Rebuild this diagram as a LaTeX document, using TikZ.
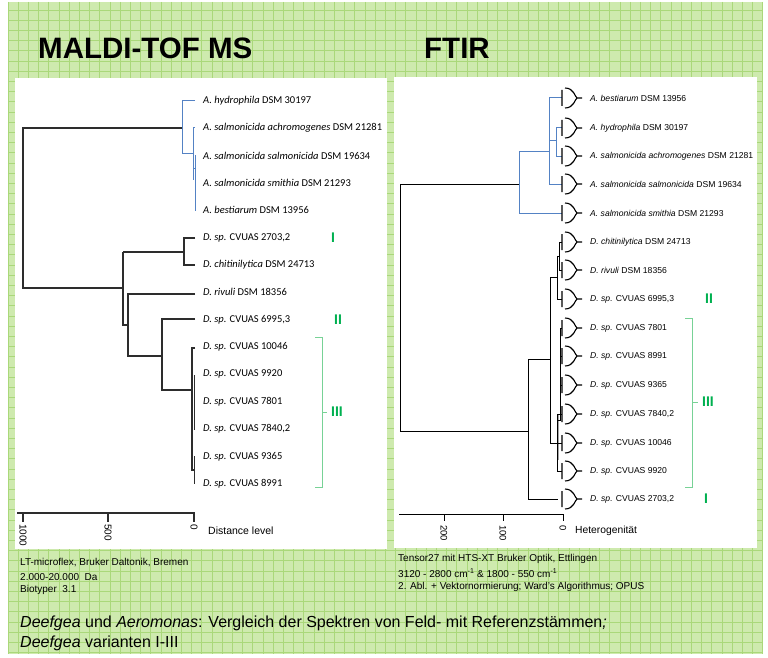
\documentclass[tikz,border=0pt]{standalone}
\usepackage{fontspec}
\setmainfont{Liberation Sans}
\newfontfamily\leftfont{Carlito}
\definecolor{paper}{RGB}{206,234,174}
\definecolor{gridgreen}{RGB}{170,216,122}
\definecolor{aerblue}{RGB}{84,130,196}
\definecolor{treegray}{RGB}{45,45,45}
\definecolor{varigreen}{RGB}{0,176,80}
\definecolor{brackgreen}{RGB}{120,210,150}
\tikzset{
  gridline/.style={draw=gridgreen, line width=0.8pt},
  ltree/.style={draw=treegray, line width=1.1pt},
  lblue/.style={draw=aerblue, line width=1pt},
  rtree/.style={draw=black, line width=0.9pt},
  rblue/.style={draw=aerblue, line width=1pt},
  leftlab/.style={anchor=west, inner sep=0pt, font=\leftfont\fontsize{10.5}{12}\selectfont},
  rightlab/.style={anchor=west, inner sep=0pt, font=\fontsize{8.6}{10}\selectfont},
  ticklab/.style={rotate=-90, anchor=west, inner sep=0pt, font=\fontsize{10}{12}\selectfont},
  axislab/.style={anchor=west, inner sep=0pt, font=\fontsize{10.5}{12}\selectfont},
  varlab/.style={inner sep=0pt, text=varigreen, font=\bfseries\fontsize{14}{16}\selectfont},
  bracket/.style={draw=brackgreen, line width=0.9pt},
  footlab/.style={anchor=west, inner sep=0pt, font=\fontsize{10}{12}\selectfont},
}
\begin{document}
\begin{tikzpicture}[x=1pt,y=-1pt]
        \useasboundingbox (0,0) rectangle (768,658);
        \fill[white] (0,0) rectangle (768,658);

        % Hintergrund mit Gitter
        \fill[paper] (8,2) rectangle (763,654);
        \foreach \x in {8,18.2,...,763} \draw[gridline] (\x,2) -- (\x,654);
        \foreach \y in {10,20.2,...,654} \draw[gridline] (8,\y) -- (763,\y);

        % Felder
        \fill[white] (15,78) rectangle (387,549);
        \fill[white] (394,77) rectangle (757,548);

        % Titel
        \node[anchor=west, inner sep=0pt, font=\bfseries\fontsize{29.5}{34}\selectfont] (maldi) at (38,48) {MALDI-TOF MS};
        \node[anchor=west, inner sep=0pt, font=\bfseries\fontsize{29.5}{34}\selectfont] (ftir) at (424,48) {FTIR};

        % MALDI: Wurzel
        \draw[ltree] (183,128) -- (23,128) -- (23,288) -- (123,288);

        % MALDI: Aeromonas
        \draw[lblue] (195,101) -- (182,101) -- (182,153) -- (193,153);
        \draw[lblue] (195,128) -- (193,128) -- (193,180);
        \draw[lblue] (193,168) -- (195,168);
        \draw[lblue] (195,155) -- (195,211);

        % MALDI: Deefgea
        \draw[ltree] (123,252) -- (123,325) -- (128,325);
        \draw[ltree] (195,238) -- (184,238) -- (184,265) -- (195,265);
        \draw[ltree] (123,252) -- (184,252);
        \draw[ltree] (195,294) -- (128,294) -- (128,356) -- (162,356);
        \draw[ltree] (195,319) -- (162,319) -- (162,390) -- (192,390);
        \draw[ltree] (195,348) -- (192,348) -- (192,470) -- (194.5,470);
        \draw[ltree, line width=2.2pt] (192,397) -- (192,433);
        \draw[ltree, line width=0.8pt] (195,375) -- (194.3,375) -- (194.3,429) -- (195,429);
        \draw[ltree, line width=0.8pt] (194.3,402) -- (195,402);
        \draw[ltree, line width=0.8pt] (194.5,456) -- (194.5,484);

        % MALDI: Stämme
        \node[leftlab] (lhyd) at (203,101) {\textit{A. hydrophila} DSM 30197};
        \node[leftlab] (lach) at (203,128) {\textit{A. salmonicida achromogenes} DSM 21281};
        \node[leftlab] (lsal) at (203,156) {\textit{A. salmonicida salmonicida} DSM 19634};
        \node[leftlab] (lsmi) at (203,183) {\textit{A. salmonicida smithia} DSM 21293};
        \node[leftlab] (lbes) at (203,210) {\textit{A. bestiarum} DSM 13956};
        \node[leftlab] (l2703) at (203,238) {\textit{D. sp.} CVUAS 2703,2};
        \node[leftlab] (lchi) at (203,265) {\textit{D. chitinilytica} DSM 24713};
        \node[leftlab] (lriv) at (203,292) {\textit{D. rivuli} DSM 18356};
        \node[leftlab] (l6995) at (203,320) {\textit{D. sp.} CVUAS 6995,3};
        \node[leftlab] (l10046) at (203,347) {\textit{D. sp.} CVUAS 10046};
        \node[leftlab] (l9920) at (203,374) {\textit{D. sp.} CVUAS 9920};
        \node[leftlab] (l7801) at (203,402) {\textit{D. sp.} CVUAS 7801};
        \node[leftlab] (l7840) at (203,429) {\textit{D. sp.} CVUAS 7840,2};
        \node[leftlab] (l9365) at (203,457) {\textit{D. sp.} CVUAS 9365};
        \node[leftlab] (l8991) at (203,484) {\textit{D. sp.} CVUAS 8991};

        % MALDI: Varianten
        \node[varlab] (lvarI) at (333,238) {I};
        \node[varlab] (lvarII) at (338,320) {II};
        \draw[bracket] (315,337) -- (322,337) -- (322,487) -- (315,487);
        \draw[bracket] (322,412) -- (327,412);
        \node[varlab, anchor=west] (lvarIII) at (331,412) {III};

        % MALDI: Achse
        \draw[ltree] (17,513) -- (195,513);
        \draw[ltree] (23,513) -- (23,522);
        \draw[ltree] (108,513) -- (108,522);
        \draw[ltree] (194,513) -- (194,522);
        \node[ticklab] (t1000) at (23,524) {1000};
        \node[ticklab] (t500) at (108,524) {500};
        \node[ticklab] (t0l) at (194,524) {0};
        \node[axislab] (dist) at (208,531) {Distance level};

        % FTIR: Wurzel
        \draw[rtree] (519,184) -- (400,184) -- (400,431) -- (528,431);

        % FTIR: Aeromonas
        \draw[rblue] (549,151) -- (519,151) -- (519,213) -- (562,213);
        \draw[rblue] (562,98) -- (549,98) -- (549,184) -- (562,184);
        \draw[rblue] (549,141) -- (556,141);
        \draw[rblue] (562,128) -- (556,128) -- (556,156) -- (562,156);

        % FTIR: Deefgea
        \draw[rtree] (550,359) -- (528,359) -- (528,499) -- (558,499);
        \draw[rtree] (557,277) -- (550,277) -- (550,443) -- (557,443);
        \draw[rtree] (559,256) -- (557,256) -- (557,299) -- (562,299);
        \draw[rtree] (562,242) -- (559,242) -- (559,270) -- (562,270);
        \draw[gray!70, line width=2pt] (558,414) -- (558,460);
        \draw[rtree] (562,414) -- (557,414) -- (557,471) -- (562,471);
        \draw[rtree] (557,443) -- (562,443);
        \draw[rtree] (557,420) -- (560,420) -- (560,328) -- (562,328);
        \draw[rtree] (560,356) -- (562,356);
        \draw[rtree] (560,385) -- (562,385);

        % FTIR: Blattsymbole
        \foreach \y in {98,128,156,184,213,242,270,299,328,356,385,414,443,471,499}
          \draw[rtree, line width=1.1pt] (562,\y-8) -- (562,\y+8)
            (565,\y-10) .. controls (574,\y-10) and (575,\y-1) .. (577,\y) -- (582,\y)
            (577,\y) .. controls (575,\y+1) and (574,\y+10) .. (565,\y+10);

        % FTIR: Stämme
        \node[rightlab] (rbes) at (590,98) {\textit{A. bestiarum} DSM 13956};
        \node[rightlab] (rhyd) at (590,128) {\textit{A. hydrophila} DSM 30197};
        \node[rightlab] (rach) at (590,156) {\textit{A. salmonicida achromogenes} DSM 21281};
        \node[rightlab] (rsal) at (590,184) {\textit{A. salmonicida salmonicida} DSM 19634};
        \node[rightlab] (rsmi) at (590,213) {\textit{A. salmonicida smithia} DSM 21293};
        \node[rightlab] (rchi) at (590,242) {\textit{D. chitinilytica} DSM\ 24713};
        \node[rightlab] (rriv) at (590,270) {\textit{D. rivuli} DSM\ 18356};
        \node[rightlab] (r6995) at (590,299) {\textit{D. sp.} CVUAS\ 6995,3};
        \node[rightlab] (r7801) at (590,328) {\textit{D. sp.} CVUAS\ 7801};
        \node[rightlab] (r8991) at (590,356) {\textit{D. sp.} CVUAS\ 8991};
        \node[rightlab] (r9365) at (590,385) {\textit{D. sp.} CVUAS\ 9365};
        \node[rightlab] (r7840) at (590,414) {\textit{D. sp.} CVUAS\ 7840,2};
        \node[rightlab] (r10046) at (590,443) {\textit{D. sp.} CVUAS\ 10046};
        \node[rightlab] (r9920) at (590,471) {\textit{D. sp.} CVUAS\ 9920};
        \node[rightlab] (r2703) at (590,499) {\textit{D. sp.} CVUAS\ 2703,2};

        % FTIR: Varianten
        \node[varlab] (rvarII) at (709,299) {II};
        \draw[bracket] (685,318) -- (692,318) -- (692,487) -- (685,487);
        \draw[bracket] (692,402) -- (698,402);
        \node[varlab, anchor=west] (rvarIII) at (702,402) {III};
        \node[varlab] (rvarI) at (706,499) {I};

        % FTIR: Achse
        \draw[rtree] (399,514) -- (563,514);
        \draw[rtree] (444,514) -- (444,521);
        \draw[rtree] (503,514) -- (503,521);
        \draw[rtree] (563,514) -- (563,521);
        \node[ticklab, font=\fontsize{9.5}{11}\selectfont] (t200) at (444,525) {200};
        \node[ticklab, font=\fontsize{9.5}{11}\selectfont] (t100) at (503,525) {100};
        \node[ticklab, font=\fontsize{9.5}{11}\selectfont] (t0r) at (563,525) {0};
        \node[axislab, font=\fontsize{10.3}{12}\selectfont] (het) at (575,531) {Heterogenität};

        % Geräte
        \node[footlab] (f1) at (20,563) {LT-microflex, Bruker Daltonik, Bremen};
        \node[footlab] (f2) at (20,577) {2.000-20.000\ \ Da};
        \node[footlab] (f3) at (20,590) {Biotyper\ \ 3.1};
        \node[footlab] (g1) at (398,559) {Tensor27 mit HTS-XT Bruker Optik, Ettlingen};
        \node[footlab] (g2) at (398,573) {3120 - 2800 cm\textsuperscript{-1} \& 1800 - 550 cm\textsuperscript{-1}};
        \node[footlab] (g3) at (398,587) {2. Abl. + Vektornormierung; Ward's Algorithmus; OPUS};

        % Legende
        \node[anchor=west, inner sep=0pt, font=\fontsize{16}{19}\selectfont] (cap1) at (20,623) {\textit{Deefgea} und \textit{Aeromonas}: Vergleich der Spektren von Feld- mit Referenzstämmen\textit{;}};
        \node[anchor=west, inner sep=0pt, font=\fontsize{16}{19}\selectfont] (cap2) at (20,643) {\textit{Deefgea} varianten I-III};
\end{tikzpicture}
\end{document}
